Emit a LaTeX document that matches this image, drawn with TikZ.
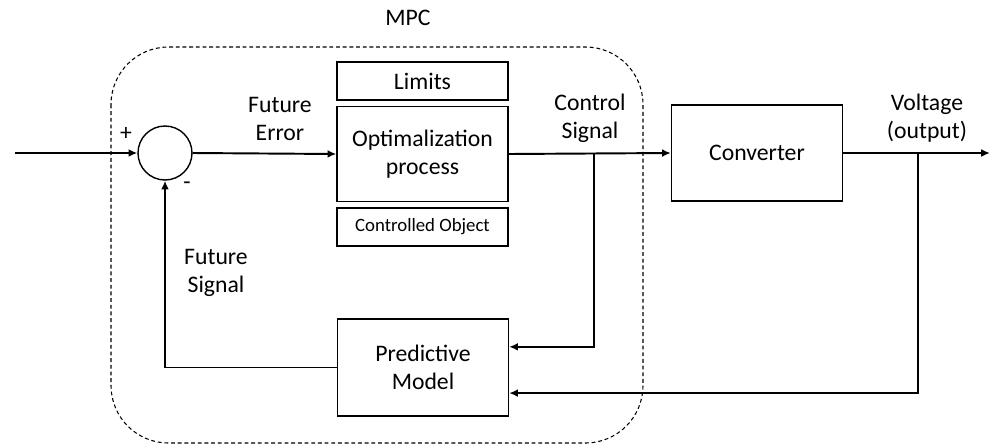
\documentclass[tikz,border=0pt]{standalone}
\usepackage{fontspec}
\setmainfont{Carlito}
\usetikzlibrary{arrows.meta, calc}
\tikzstyle{every picture}+=[font=\fontsize{13.5}{16}\selectfont]

\begin{document}
\begin{tikzpicture}[x=0.02cm, y=-0.02cm,
  blk/.style={draw, line width=0.8pt, minimum width=3.42cm, align=center, inner sep=1pt},
  sig/.style={line width=1.1pt},
  arr/.style={sig, -{Latex[length=5pt, width=4.5pt]}},
  lbl/.style={align=center, inner sep=1pt}]
\useasboundingbox (0,0) rectangle (992,444);

%% MPC frame
\draw[dashed, dash pattern=on 2.2pt off 1.6pt, line width=0.6pt, rounded corners=1.15cm]
  (111,47) rectangle (643,443);
\node[lbl] (mpc) at (408,18) {MPC};

%% blocks
\node[draw, circle, line width=0.8pt, minimum size=1.08cm] (sum) at (165,153) {};
\node[blk, minimum height=0.76cm] (lim) at (422.5,81) {Limits};
\node[blk, minimum height=1.9cm] (opt) at (422.5,154) {Optimalization\\process};
\node[blk, minimum height=0.76cm, font=\fontsize{10.7}{12}\selectfont] (obj) at (422.5,227) {Controlled Object};
\node[blk, minimum height=1.92cm] (conv) at (757,153) {Converter};
\node[blk, minimum height=1.94cm] (pred) at (423,367.5) {Predictive\\Model};

%% free ends and branch points
\coordinate (in) at (15,153);
\coordinate (out) at (990,153);
\coordinate (br1) at (594,153);
\coordinate (br2) at (918,153);

%% signals
\draw[arr] (in) -- (sum.west);
\draw[arr] (sum.east) -- (opt.west);
\draw[arr] (opt.east) -- (conv.west);
\draw[arr] (conv.east) -- (out);
\draw[arr] (br1) |- ($(pred.north east)!0.29!(pred.south east)$);
\draw[arr] (br2) |- ($(pred.north east)!0.76!(pred.south east)$);
\draw[arr] (pred.west) -| (sum.south);

%% Labels
\node[lbl] (plus) at (126,134) {+};
\node[lbl] (minus) at (187,186) {-};
\node[lbl] (ferr) at (280,119) {Future\\Error};
\node[lbl] (csig) at (590,118) {Control\\Signal};
\node[lbl] (volt) at (927,118) {Voltage\\(output)};
\node[lbl] (fsig) at (216,273) {Future\\Signal};

\end{tikzpicture}
\end{document}
